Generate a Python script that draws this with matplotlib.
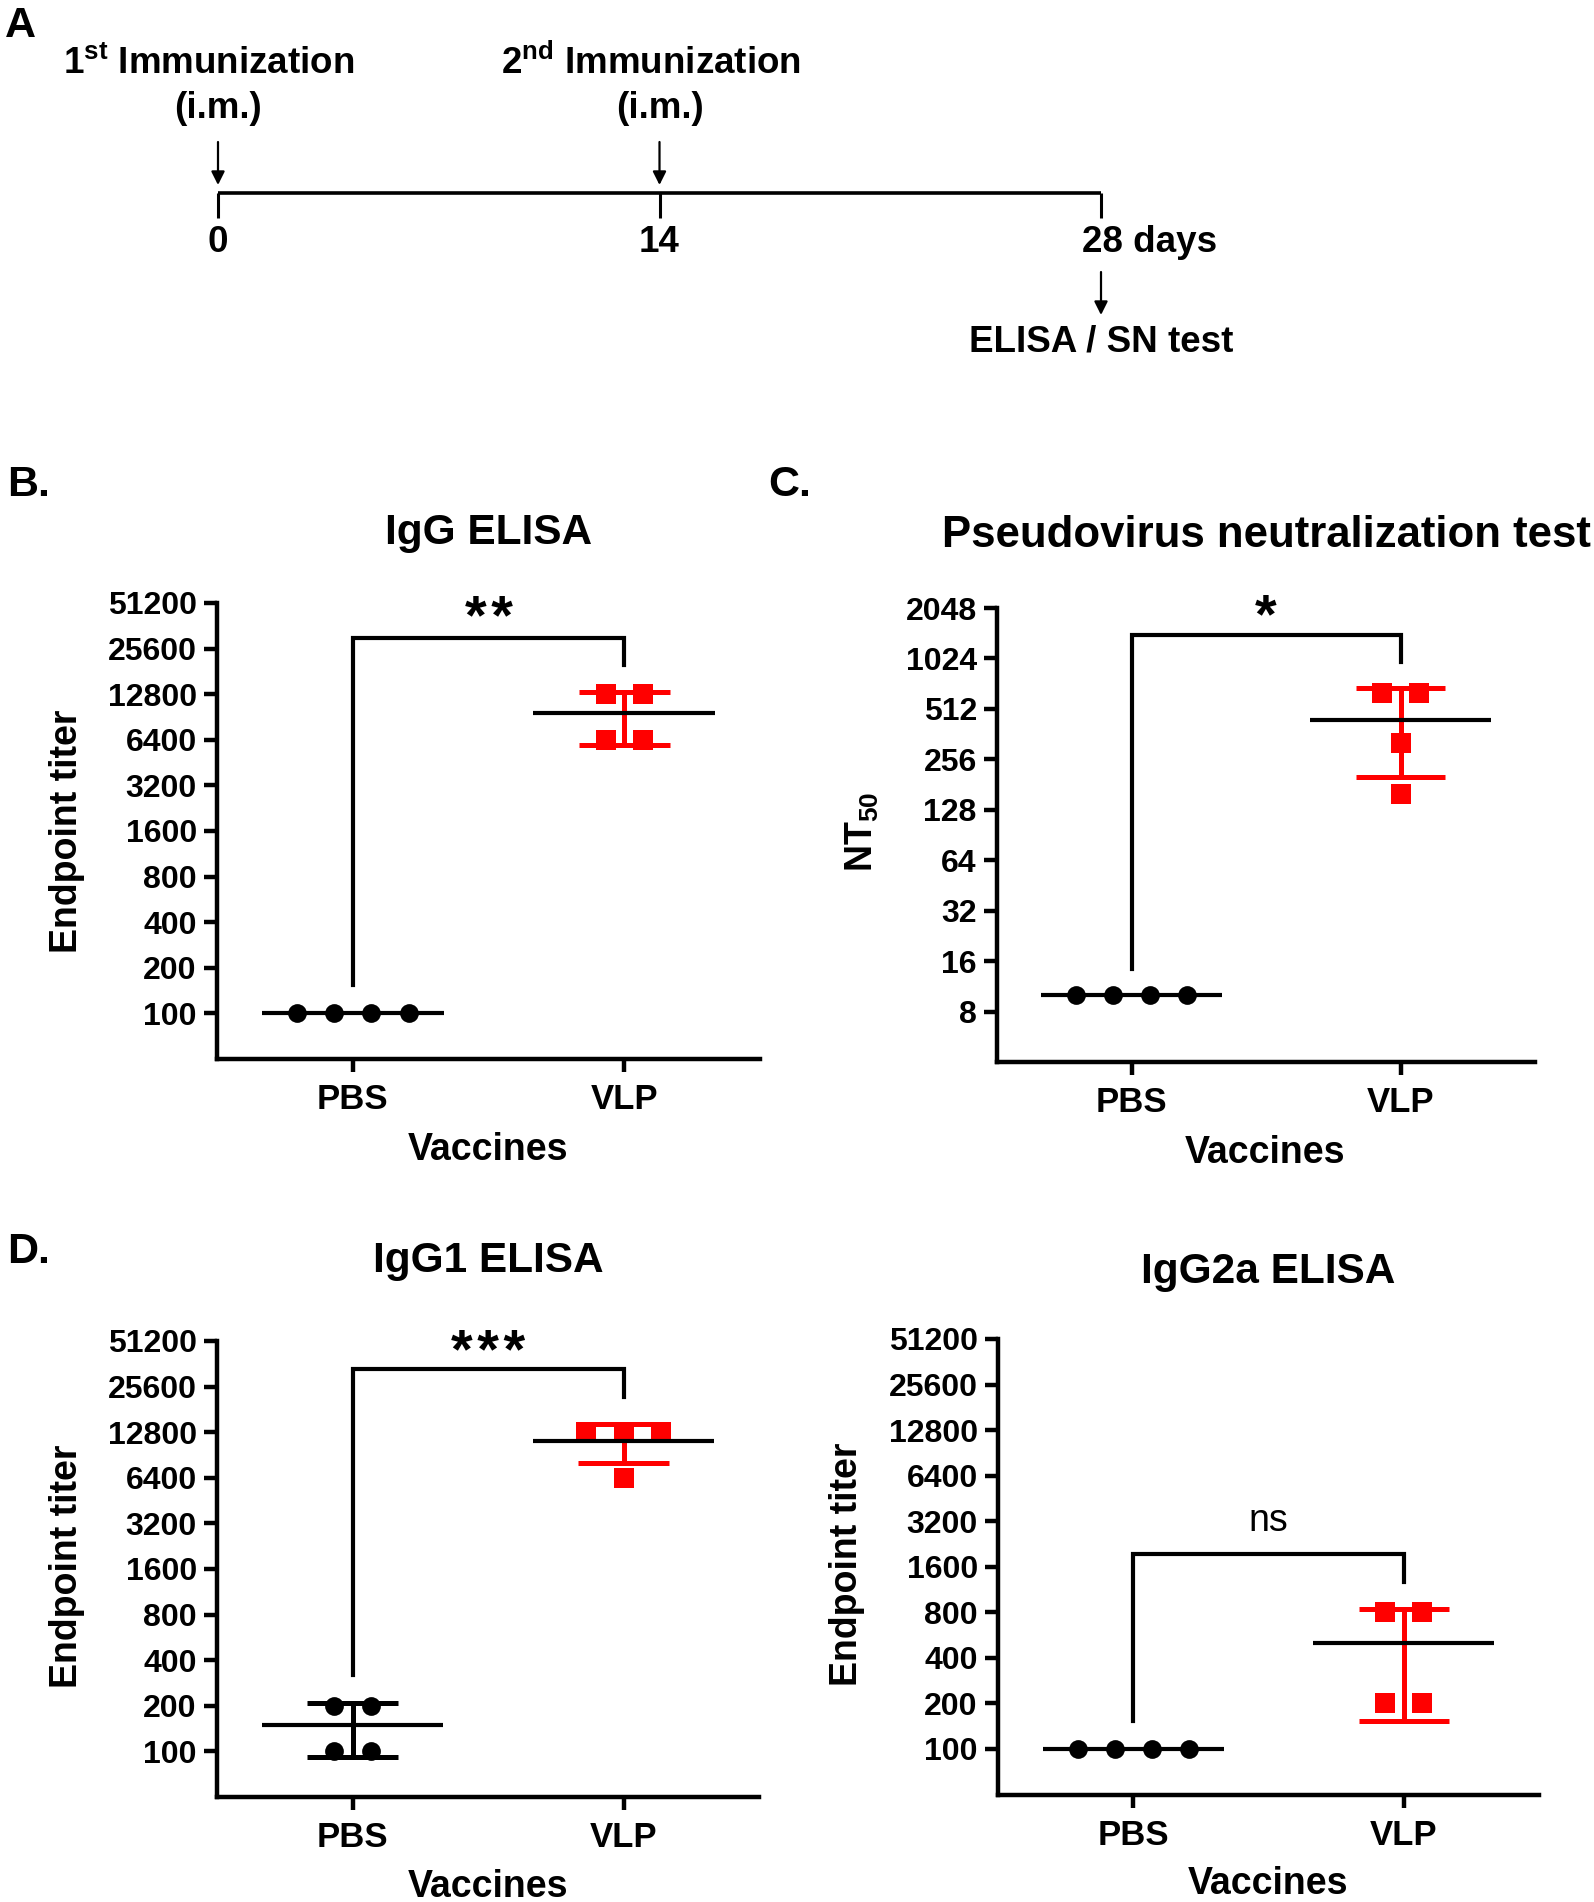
import numpy as np
import matplotlib
matplotlib.use("Agg")
import matplotlib.pyplot as plt
from matplotlib.ticker import FixedLocator, FixedFormatter, NullLocator

plt.rcParams['font.family'] = ['Liberation Sans', 'DejaVu Sans']
plt.rcParams['font.weight'] = 'bold'
plt.rcParams['mathtext.fontset'] = 'custom'
plt.rcParams['mathtext.rm'] = 'Liberation Sans'
plt.rcParams['mathtext.bf'] = 'Liberation Sans:bold'
plt.rcParams['mathtext.it'] = 'Liberation Sans:italic'

# ---------------- data ----------------
groups = ['PBS', 'VLP']

igg_pbs = [100, 100, 100, 100]
igg_vlp = [12800, 12800, 6400, 6400]
nt50_pbs = [10, 10, 10, 10]
nt50_vlp = [640, 640, 320, 160]
igg1_pbs = [200, 200, 100, 100]
igg1_vlp = [12800, 12800, 12800, 6400]
igg2a_pbs = [100, 100, 100, 100]
igg2a_vlp = [800, 800, 200, 200]

titer_ticks = [100, 200, 400, 800, 1600, 3200, 6400, 12800, 25600, 51200]
nt50_ticks = [8, 16, 32, 64, 128, 256, 512, 1024, 2048]

panel_titles = ['IgG ELISA', 'Pseudovirus neutralization test', 'IgG1 ELISA', 'IgG2a ELISA']
y_labels = ['Endpoint titer', r'NT$_{\mathrm{50}}$', 'Endpoint titer', 'Endpoint titer']
x_label = 'Vaccines'

sig_labels = ['*\u200a*', '*', '*\u200a*\u200a*', 'ns']
bracket_top = [30000, 1420, 33500, 1940]
bracket_left_end = [154, 14.3, 317, 154]
bracket_right_end = [20000, 975, 21900, 1260]

timeline_days = [0, 14, 28]
timeline_labels = ['0', '14', '28 days']
immunization_days = [0, 14]
immunization_labels = [r'$\mathbf{1^{st}}$ Immunization', r'$\mathbf{2^{nd}}$ Immunization']
route_label = '(i.m.)'
readout_label = 'ELISA / SN test'

# ---------------- layout helpers ----------------
W, H = 1594, 1902
DPI = 100
fig = plt.figure(figsize=(W / DPI, H / DPI), dpi=DPI)


def rect(l, t, r, b):
    return [l / W, 1 - b / H, (r - l) / W, (b - t) / H]


def fx(px):
    return px / W


def fy(py):
    return 1 - py / H


PX2PT = 72.0 / DPI

SPREAD = 0.137
CAP = 0.167
MEAN_HALF = 0.335
ERR_LW = 3.6
MEAN_LW = 3.0
SPINE_LW = 3.2
RED = '#FF0000'


def draw_panel(ax, pbs, vlp, ticks, ylim, title, title_fs, title_gap_px, ax_h_px,
               ylabel, ylabel_xy, xlabel_xy, k):
    ax.set_yscale('log', base=2)
    for i, (vals, color, marker, ms) in enumerate([(pbs, 'black', 'o', 13.5),
                                                   (vlp, RED, 's', 14.0)]):
        vals = np.asarray(vals, dtype=float)
        xs = np.empty(len(vals))
        for v in np.unique(vals):
            idx = np.where(vals == v)[0]
            n = len(idx)
            xs[idx] = i + (np.arange(n) - (n - 1) / 2.0) * SPREAD
        ax.plot(xs, vals, linestyle='none', marker=marker, ms=ms, color=color,
                mew=0, zorder=3, clip_on=False)
        m = vals.mean()
        sd = vals.std(ddof=1)
        if sd > 0:
            ax.plot([i, i], [m - sd, m + sd], color=color, lw=ERR_LW, zorder=4,
                    solid_capstyle='butt')
            for yv in (m - sd, m + sd):
                ax.plot([i - CAP, i + CAP], [yv, yv], color=color, lw=ERR_LW,
                        zorder=4, solid_capstyle='butt')
        ax.plot([i - MEAN_HALF, i + MEAN_HALF], [m, m], color='black', lw=MEAN_LW,
                zorder=5, solid_capstyle='butt')

    # significance bracket
    ax.plot([0, 0, 1, 1], [bracket_left_end[k], bracket_top[k], bracket_top[k],
                           bracket_right_end[k]],
            color='black', lw=3.0, solid_joinstyle='miter', zorder=2)

    ax.set_xlim(-0.5, 1.5)
    ax.set_ylim(*ylim)
    ax.yaxis.set_major_locator(FixedLocator(ticks))
    ax.yaxis.set_major_formatter(FixedFormatter([str(t) for t in ticks]))
    ax.yaxis.set_minor_locator(NullLocator())
    ax.set_xticks([0, 1])
    ax.set_xticklabels(groups)
    for s in ['top', 'right']:
        ax.spines[s].set_visible(False)
    for s in ['left', 'bottom']:
        ax.spines[s].set_linewidth(SPINE_LW)
        ax.spines[s].set_capstyle('projecting')
    ax.tick_params(axis='y', direction='out', length=9.5, width=SPINE_LW,
                   labelsize=23, pad=5)
    ax.tick_params(axis='x', direction='out', length=9.5, width=SPINE_LW,
                   labelsize=25, pad=8)
    ax.set_title(title, fontsize=title_fs, fontweight='bold', pad=0,
                 y=1 + title_gap_px / ax_h_px, va='baseline')
    ax.set_ylabel(ylabel, fontsize=27, fontweight='bold')
    ax.yaxis.set_label_coords(fx(ylabel_xy[0]), fy(ylabel_xy[1]), transform=fig.transFigure)
    ax.yaxis.label.set_verticalalignment('center')
    ax.set_xlabel(x_label, fontsize=27, fontweight='bold')
    ax.xaxis.set_label_coords(fx(xlabel_xy[0]), fy(xlabel_xy[1]), transform=fig.transFigure)


# ---------------- panels B, C, D ----------------
axB = fig.add_axes(rect(217, 603, 760, 1059))
axC = fig.add_axes(rect(997, 608, 1535, 1062))
axD1 = fig.add_axes(rect(217, 1341, 759, 1797))
axD2 = fig.add_axes(rect(998, 1339, 1539, 1794.5))

draw_panel(axB, igg_pbs, igg_vlp, titer_ticks, (50, 51200), panel_titles[0], 30.5, 59, 456,
           y_labels[0], (67, 831), (488, 1132), 0)
draw_panel(axC, nt50_pbs, nt50_vlp, nt50_ticks, (4, 2048), panel_titles[1], 31.5, 61, 454,
           y_labels[1], (862, 832), (1265, 1135), 1)
draw_panel(axD1, igg1_pbs, igg1_vlp, titer_ticks, (50, 51200), panel_titles[2], 30.5, 69, 456,
           y_labels[2], (67, 1566), (488, 1869), 2)
draw_panel(axD2, igg2a_pbs, igg2a_vlp, titer_ticks, (50, 51200), panel_titles[3], 30.5, 56, 455.5,
           y_labels[3], (847, 1564), (1268, 1866), 3)

# significance labels
sig_specs = [(axB, 40, 'bold', -4), (axC, 40, 'bold', -2.5), (axD1, 40, 'bold', -1),
             (axD2, 27, 'normal', -23)]
for k, (ax, fs, fw, below_px) in enumerate(sig_specs):
    ax.annotate(sig_labels[k], xy=(0.5, bracket_top[k]), xytext=(0, -below_px * PX2PT),
                textcoords='offset points', ha='center', va='baseline',
                fontsize=fs, fontweight=fw, annotation_clip=False)

# panel letters
fig.text(fx(5), fy(37), 'A', fontsize=31, fontweight='bold', ha='left', va='baseline')
fig.text(fx(7), fy(496), 'B.', fontsize=31, fontweight='bold', ha='left', va='baseline')
fig.text(fx(768), fy(496), 'C.', fontsize=31, fontweight='bold', ha='left', va='baseline')
fig.text(fx(7), fy(1263), 'D.', fontsize=31, fontweight='bold', ha='left', va='baseline')

# ---------------- panel A: timeline ----------------
PX_PER_DAY = (1101 - 218) / 28.0
axA = fig.add_axes([0, fy(400), 1, 400 / H])
axA.set_xlim(-218 / PX_PER_DAY, (W - 218) / PX_PER_DAY)
axA.set_ylim(400, 0)
axA.axis('off')

TL_Y = 193
axA.plot([timeline_days[0], timeline_days[-1]], [TL_Y, TL_Y], color='black', lw=2.6,
         solid_capstyle='butt')
for d in timeline_days:
    axA.plot([d, d], [TL_Y, 218], color='black', lw=2.2, solid_capstyle='butt')

afont = dict(fontsize=26.5, fontweight='bold')
for d, lab in zip(timeline_days, timeline_labels):
    if lab.endswith('days'):
        axA.annotate(lab, xy=(d, 243), xytext=(-19 * PX2PT, 0), textcoords='offset points',
                     ha='left', va='center', **afont)
    else:
        axA.text(d, 243, lab, ha='center', va='center', **afont)

for d, lab in zip(immunization_days, immunization_labels):
    axA.annotate(lab, xy=(d, 74), xytext=(-9 * PX2PT, 0), textcoords='offset points',
                 ha='center', va='baseline', **afont)
    axA.text(d, 108, route_label, ha='center', va='center', **afont)
    axA.annotate('', xy=(d, 185), xytext=(d, 142),
                 arrowprops=dict(arrowstyle='-|>', color='black', lw=1.6,
                                 mutation_scale=20, shrinkA=0, shrinkB=0))

last = timeline_days[-1]
axA.annotate('', xy=(last, 315), xytext=(last, 272),
             arrowprops=dict(arrowstyle='-|>', color='black', lw=1.6,
                             mutation_scale=20, shrinkA=0, shrinkB=0))
axA.text(last, 342, readout_label, ha='center', va='center', **afont)

fig.savefig('out.png', dpi=DPI)
